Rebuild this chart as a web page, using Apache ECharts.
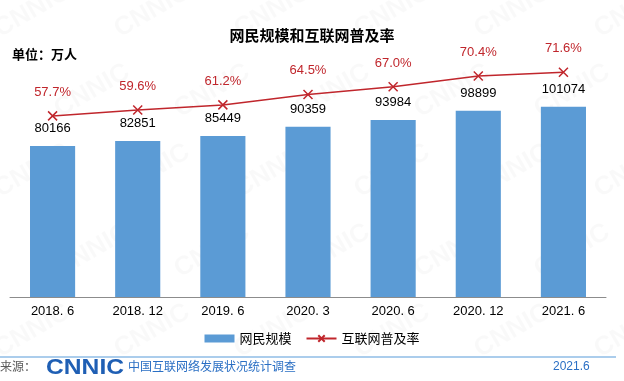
<!DOCTYPE html>
<html><head><meta charset="utf-8">
<script src="https://cdn.jsdelivr.net/npm/echarts@6/dist/echarts.min.js"></script>
<style>html,body{margin:0;padding:0;background:#fff}#c{width:624px;height:381px}</style>
</head><body><div id="c"></div>
<script>
const categories = ['2018. 6','2018. 12','2019. 6','2020. 3','2020. 6','2020. 12','2021. 6'];
const netizens = [80166, 82851, 85449, 90359, 93984, 98899, 101074];
const penetration = [57.7, 59.6, 61.2, 64.5, 67.0, 70.4, 71.6];

const chart = echarts.init(document.getElementById('c'));
const wm = [];
for (let r = 0; r < 5; r++) {
  for (let c = 0; c < 6; c++) {
    wm.push({type:'text', x: -10 + c*120 + (r%2)*60, y: 20 + r*80, rotation: Math.PI/6, silent:true, z:-1,
      style:{text:'CNNIC', fill:'rgba(0,0,0,0.022)', font:'bold 26px Arial'}});
  }
}
chart.setOption({
  animation:false,
  backgroundColor:'#fff',
  title:{text:'网民规模和互联网普及率', left:'center', top:23,
    textStyle:{fontSize:15, fontWeight:'bold', color:'#000', fontFamily:'Noto Sans CJK SC'}},
  grid:{left:10, right:18, top:71, bottom:84},
  legend:{bottom:31, left:'center', itemWidth:30, itemHeight:8, itemGap:14,
    textStyle:{fontSize:13, color:'#000', fontFamily:'Noto Sans CJK SC'},
    data:[{name:'网民规模', icon:'rect'}, {name:'互联网普及率'}]},
  xAxis:{type:'category', data:categories,
    axisLine:{lineStyle:{color:'#8c8c8c'}},
    axisTick:{inside:true, length:6, lineStyle:{color:'#8c8c8c'}},
    axisLabel:{color:'#000', fontSize:13, margin:8, fontFamily:'Liberation Sans, Arial'}},
  yAxis:[{type:'value', min:0, max:120000, show:false},
         {type:'value', min:0, max:72, show:false}],
  graphic: wm.concat([
    {type:'text', left:12, top:48, style:{text:'单位：万人', fill:'#000', font:'bold 13px "Noto Sans CJK SC"'}},
    {type:'line', shape:{x1:0, y1:357, x2:616, y2:357}, style:{stroke:'#8fbce6', lineWidth:1.5}},
    {type:'text', left:0, top:360, style:{text:'来源：', fill:'#5a5a5a', font:'12px "Noto Sans CJK SC"'}},
    {type:'text', x:46, y:357, scaleX:1.12, style:{text:'CNNIC', fill:'#1f5fb4', font:'900 22px "Liberation Sans", Arial'}},
    {type:'text', left:128, top:360, style:{text:'中国互联网络发展状况统计调查', fill:'#2a6fc4', font:'12px "Noto Sans CJK SC"'}},
    {type:'text', left:553, top:361, style:{text:'2021.6', fill:'#2a6fc4', font:'12px "Liberation Sans", Arial'}}
  ]),
  series:[
    {name:'网民规模', type:'bar', data:netizens, barWidth:'53%', itemStyle:{color:'#5b9bd5'},
      label:{show:true, position:'top', distance:11, color:'#000', fontSize:13, fontFamily:'Liberation Sans, Arial'}},
    {name:'互联网普及率', type:'line', yAxisIndex:1, data:penetration, symbol:'path://M0,0L10,10M10,0L0,10', symbolSize:9,
      lineStyle:{color:'#c0262c', width:1.5}, itemStyle:{color:'#c0262c', borderColor:'#c0262c', borderWidth:1.5},
      label:{show:true, position:'top', distance:12, color:'#c0262c', fontSize:13, fontFamily:'Liberation Sans, Arial',
        formatter: p => p.value.toFixed(1) + '%'}}
  ]
});
</script></body></html>
